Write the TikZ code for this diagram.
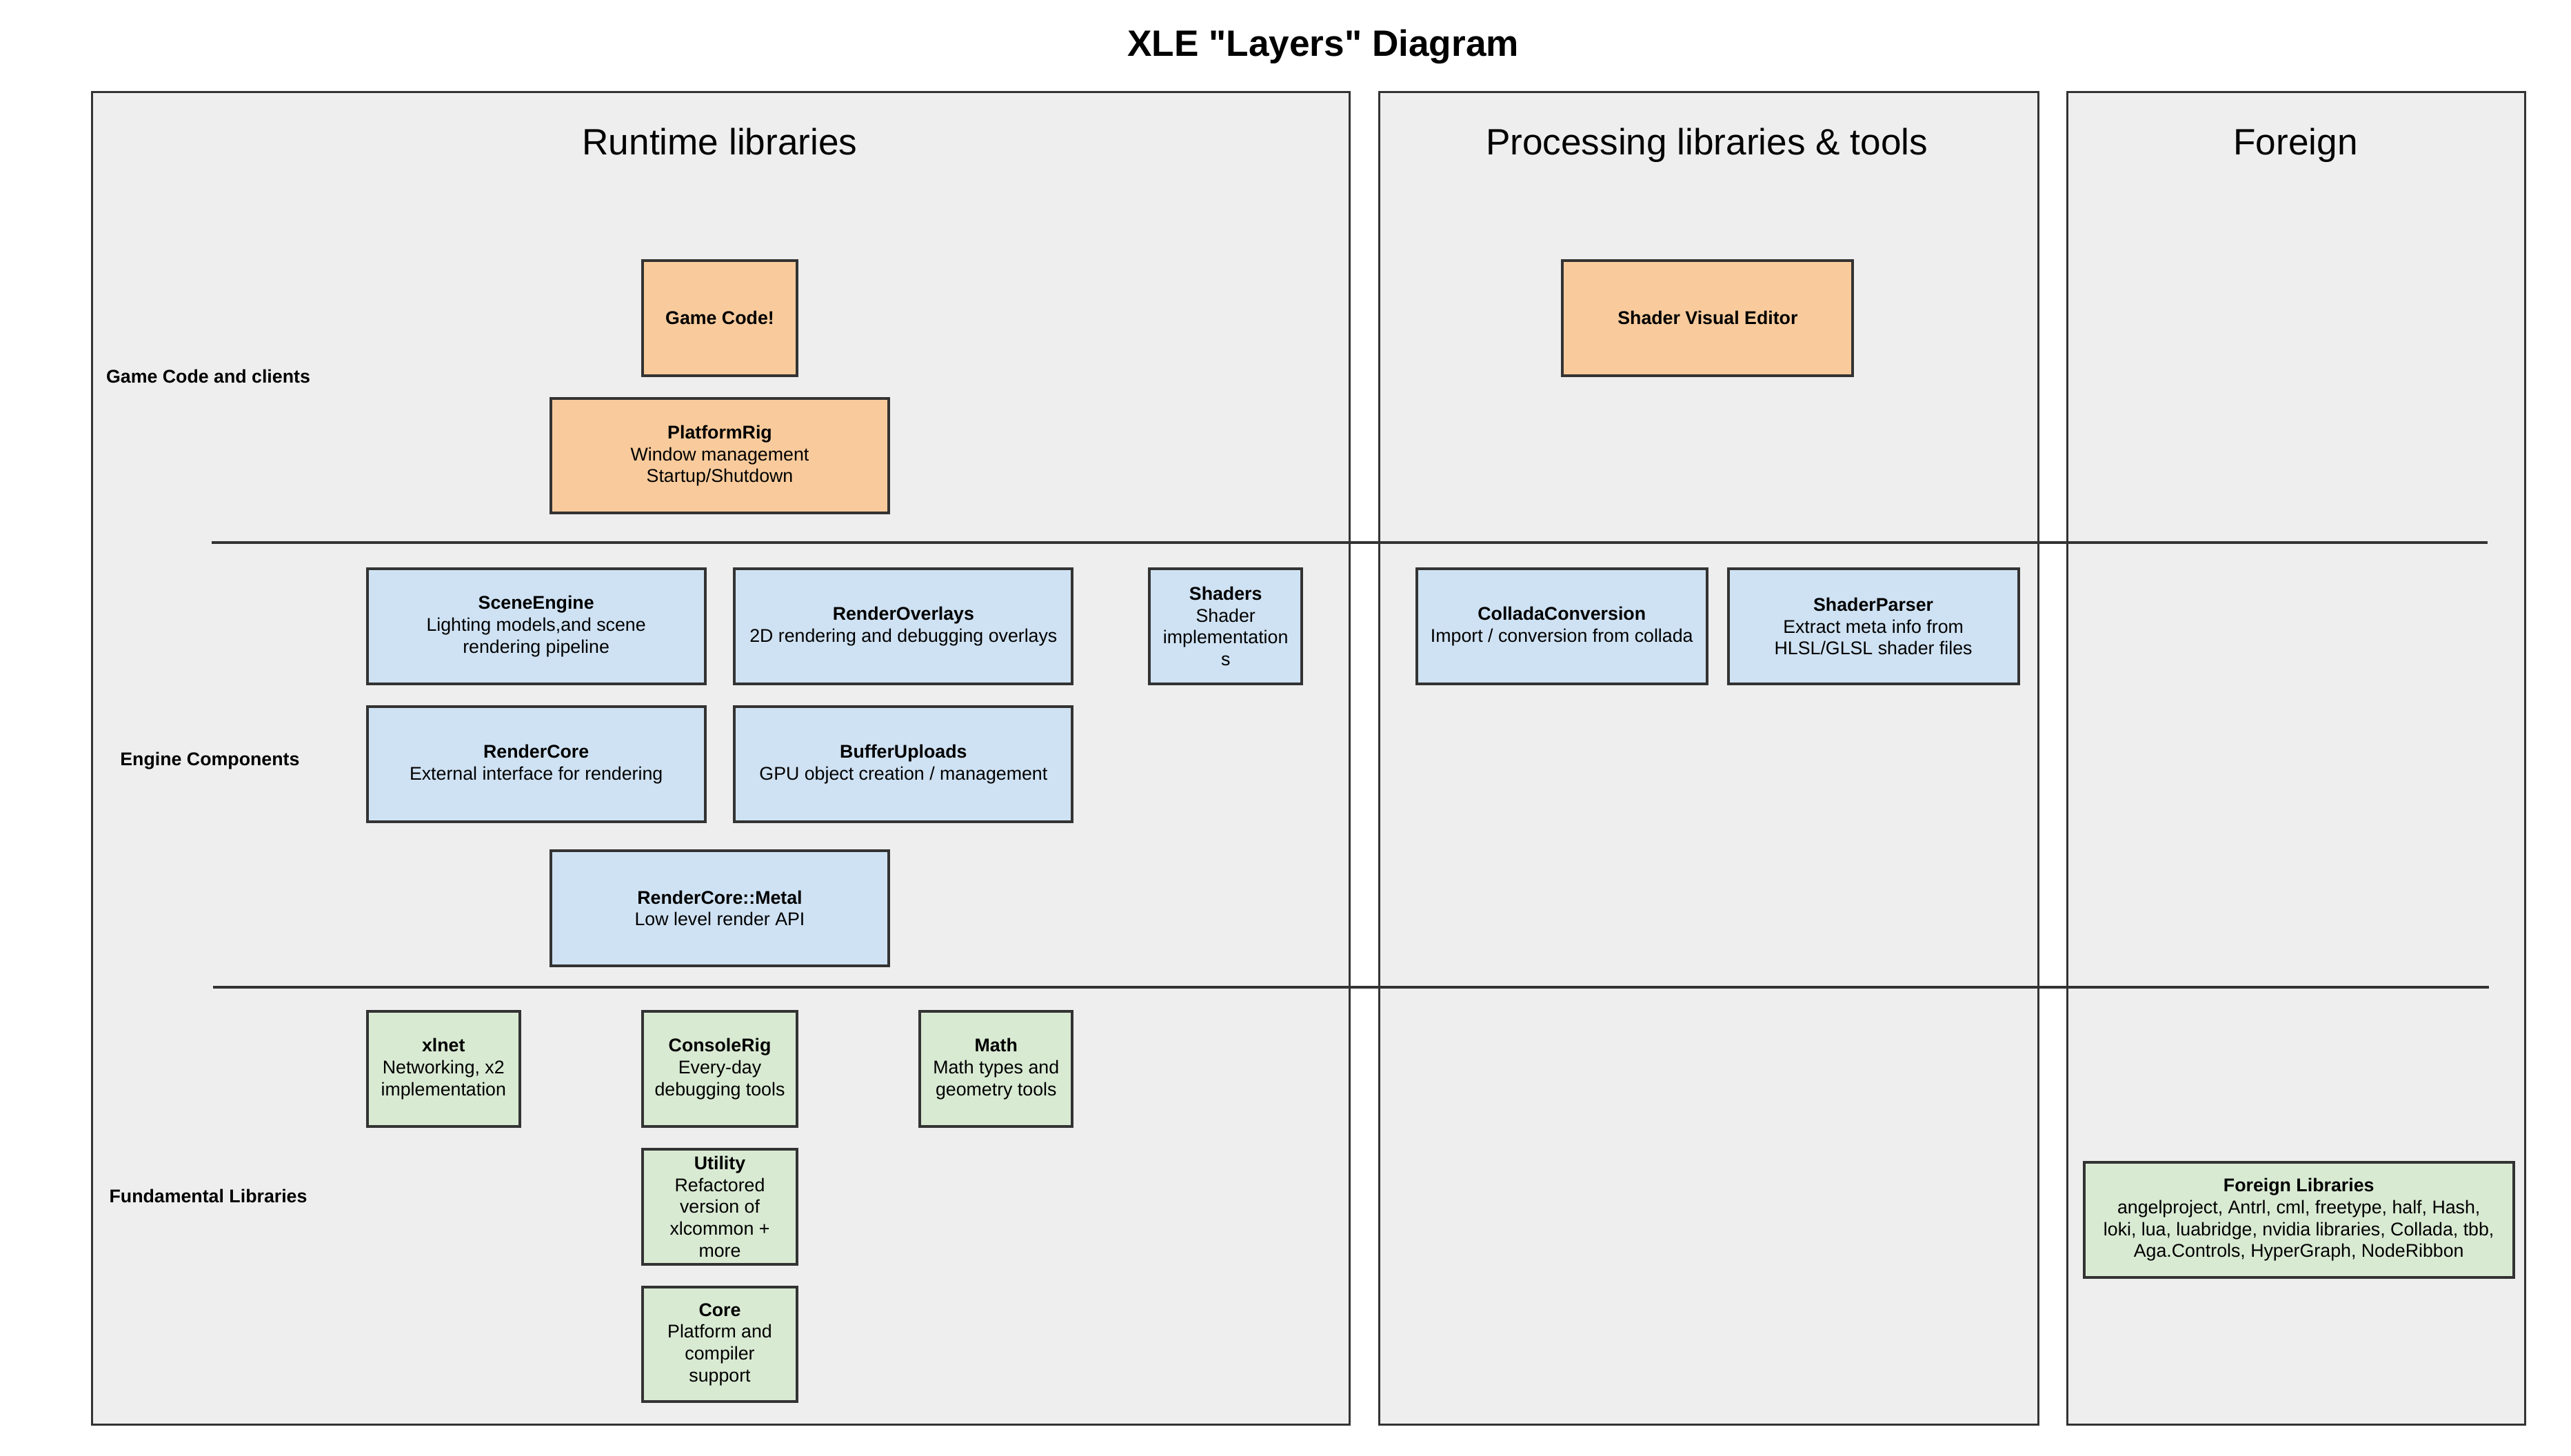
\documentclass[tikz,border=0pt]{standalone}
\usepackage{fontspec}
\setmainfont{Liberation Sans}
\definecolor{panelgray}{HTML}{EEEEEE}
\definecolor{edgegray}{HTML}{333333}
\definecolor{gameorange}{HTML}{F9CB9C}
\definecolor{engineblue}{HTML}{CFE2F3}
\definecolor{fundgreen}{HTML}{D9EAD3}

\begin{document}
\begin{tikzpicture}[x=0.025cm, y=-0.025cm,
    panel/.style={draw=edgegray, fill=panelgray, line width=0.9pt},
    layerline/.style={draw=edgegray, line width=1.1pt},
    lib/.style={draw=edgegray, line width=1.2pt, minimum height=1.75cm, align=center, inner sep=1pt, font=\fontsize{8}{9.5}\selectfont},
    game/.style={lib, fill=gameorange},
    engine/.style={lib, fill=engineblue},
    fund/.style={lib, fill=fundgreen},
    rowlabel/.style={anchor=base, font=\fontsize{8}{9.6}\selectfont\bfseries},
    paneltitle/.style={anchor=base, font=\fontsize{15.9}{19}\selectfont}]
        \useasboundingbox (0,0) rectangle (1568,888);

        \draw[panel] (56,56) rectangle (823,869);
        \draw[panel] (841,56) rectangle (1243,869);
        \draw[panel] (1261,56) rectangle (1540,869);
        \draw[layerline] (129,331) -- (1517,331);
        \draw[layerline] (130,602) -- (1518,602);

        \node[anchor=base, font=\fontsize{15.9}{19}\selectfont\bfseries] (title) at (807,34.3) {XLE \textquotedbl Layers\textquotedbl{} Diagram};
        \node[paneltitle] (runtime) at (439,94.2) {Runtime libraries};
        \node[paneltitle] (processing) at (1041,94.2) {Processing libraries \& tools};
        \node[paneltitle] (foreign) at (1400,94.2) {Foreign};

        \node[rowlabel] (rowgame) at (127,233.4) {Game Code and clients};
        \node[rowlabel] (rowengine) at (128,466.8) {Engine Components};
        \node[rowlabel] (rowfund) at (127,733.4) {Fundamental Libraries};

        \node[game, minimum width=2.35cm] (gamecode) at (439,194) {\textbf{Game Code!}};
        \node[game, minimum width=5.15cm] (platformrig) at (439,278) {\textbf{PlatformRig}\\Window management\\Startup/Shutdown};
        \node[game, minimum width=4.425cm] (shadereditor) at (1041.5,194) {\textbf{Shader Visual Editor}};

        \node[engine, minimum width=5.15cm] (sceneengine) at (327,382) {\textbf{SceneEngine}\\Lighting models,and scene\\rendering pipeline};
        \node[engine, minimum width=5.15cm] (renderoverlays) at (551,382) {\textbf{RenderOverlays}\\2D rendering and debugging overlays};
        \node[engine, minimum width=2.325cm] (shaders) at (747.5,382) {\textbf{Shaders}\\Shader\\implementation\\s};
        \node[engine, minimum width=4.425cm] (colladaconv) at (952.5,382) {\textbf{ColladaConversion}\\Import / conversion from collada};
        \node[engine, minimum width=4.425cm] (shaderparser) at (1142.5,382) {\textbf{ShaderParser}\\Extract meta info from\\HLSL/GLSL shader files};
        \node[engine, minimum width=5.15cm] (rendercore) at (327,466) {\textbf{RenderCore}\\External interface for rendering};
        \node[engine, minimum width=5.15cm] (bufferuploads) at (551,466) {\textbf{BufferUploads}\\GPU object creation / management};
        \node[engine, minimum width=5.15cm] (metal) at (439,554) {\textbf{RenderCore::Metal}\\Low level render API};

        \node[fund, minimum width=2.325cm] (xlnet) at (270.5,652) {\textbf{xlnet}\\Networking, x2\\implementation};
        \node[fund, minimum width=2.35cm] (consolerig) at (439,652) {\textbf{ConsoleRig}\\Every-day\\debugging tools};
        \node[fund, minimum width=2.325cm] (math) at (607.5,652) {\textbf{Math}\\Math types and\\geometry tools};
        \node[fund, minimum width=2.35cm] (utility) at (439,736) {\textbf{Utility}\\Refactored\\version of\\xlcommon +\\more};
        \node[fund, minimum width=2.35cm] (core) at (439,820) {\textbf{Core}\\Platform and\\compiler\\support};
        \node[fund, minimum width=6.55cm] (foreignlibs) at (1402,744) {\textbf{Foreign Libraries}\\angelproject, Antrl, cml, freetype, half, Hash,\\loki, lua, luabridge, nvidia libraries, Collada, tbb,\\Aga.Controls, HyperGraph, NodeRibbon};

    \end{tikzpicture}
\end{document}
